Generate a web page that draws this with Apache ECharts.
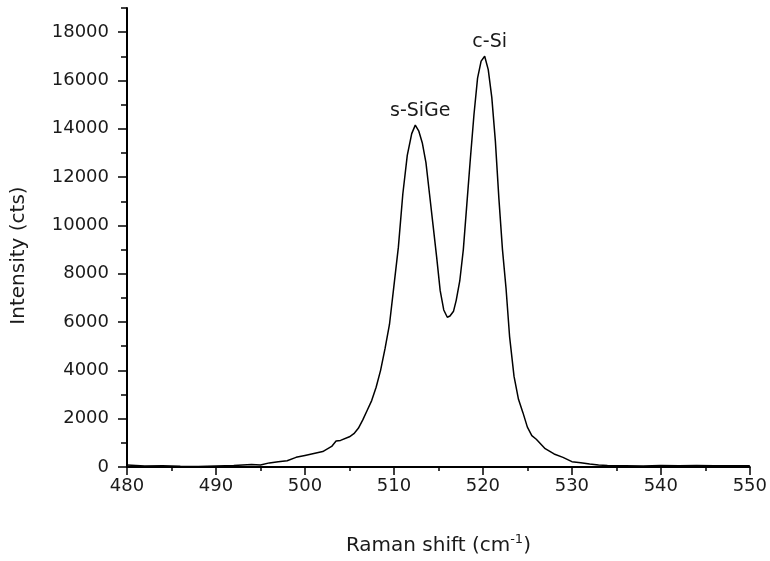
<!DOCTYPE html>
<html>
<head>
<meta charset="utf-8">
<script src="https://cdn.jsdelivr.net/npm/echarts@6/dist/echarts.min.js"></script>
<style>
  html, body { margin: 0; padding: 0; background: #fff; }
  #chart { width: 770px; height: 561px; }
</style>
</head>
<body>
<div id="chart"></div>
<script>
// Raman spectrum
var shift = [480, 482, 484, 486, 488, 490, 492, 494, 495, 496, 497, 498, 499, 500, 501, 502, 503, 503.5, 504, 505,
  505.5, 506, 506.5, 507, 507.5, 508, 508.5, 509, 509.5, 510, 510.5, 511, 511.5, 512, 512.4, 512.8, 513.2, 513.6,
  514, 514.4, 514.8, 515.2, 515.6, 516, 516.3, 516.7, 517, 517.4, 517.8, 518.2, 518.6, 519, 519.4, 519.8, 520.2,
  520.6, 521, 521.4, 521.8, 522.2, 522.6, 523, 523.5, 524, 524.5, 525, 525.5, 526, 527, 528, 529, 530, 531, 532,
  533, 534, 536, 538, 540, 542, 544, 546, 548, 550];
var intensity = [80, 40, 50, 30, 20, 40, 60, 100, 80, 170, 220, 260, 400, 480, 560, 640, 850, 1080, 1100, 1250,
  1380, 1600, 1950, 2350, 2750, 3300, 4000, 4900, 5900, 7500, 9100, 11300, 12900, 13800, 14150, 13900, 13400, 12600,
  11300, 10000, 8700, 7300, 6500, 6200, 6250, 6450, 6900, 7700, 9000, 10900, 12800, 14600, 16100, 16800, 17000,
  16450, 15300, 13500, 11100, 9000, 7400, 5400, 3750, 2800, 2250, 1650, 1300, 1150, 760, 540, 400, 220, 180, 120,
  80, 60, 50, 40, 60, 50, 60, 50, 50, 50];

var peakNames = ["s-SiGe", "c-Si"];
var peakShift = [512.4, 520.2];
var peakValue = [14150, 17000];

var yMajorTicks = [0, 2000, 4000, 6000, 8000, 10000, 12000, 14000, 16000, 18000];
var yMinorTicks = [1000, 3000, 5000, 7000, 9000, 11000, 13000, 15000, 17000, 19000];

var myChart = null;
window.onload = function () {
  myChart = echarts.init(document.getElementById("chart"));
  drawSpectrum();
};

function drawSpectrum() {
  var font = "DejaVu Sans";
  var txt = "#1a1a1a";
  var points = shift.map(function (x, i) { return [x, intensity[i]]; });
  var marks = peakNames.map(function (n, i) {
    return { name: n, coord: [peakShift[i], peakValue[i]] };
  });

  myChart.setOption({
    animation: false,
    backgroundColor: "#fff",
    grid: { left: 127, right: 16, top: 8, bottom: 94, containLabel: false },
    xAxis: {
      type: "value",
      min: 480,
      max: 550,
      interval: 10,
      name: "{a|Raman shift (cm}{s|-1}{a|)}",
      nameLocation: "middle",
      nameGap: 66,
      nameTextStyle: {
        rich: {
          a: { fontFamily: font, fontSize: 20, color: txt, lineHeight: 26 },
          s: { fontFamily: font, fontSize: 13, color: txt, verticalAlign: "top", lineHeight: 26 },
        },
      },
      axisLine: { onZero: false, lineStyle: { color: "#000", width: 2 } },
      axisTick: { inside: false, length: 8, lineStyle: { color: "#000", width: 1.5 } },
      minorTick: { show: true, splitNumber: 2, length: 4, lineStyle: { color: "#000", width: 1.5 } },
      axisLabel: { margin: 10, fontFamily: font, fontSize: 18, color: txt },
      splitLine: { show: false },
    },
    yAxis: [
      {
        type: "value",
        min: 0,
        max: 19000,
        position: "left",
        name: "Intensity (cts)",
        nameLocation: "middle",
        nameGap: 98,
        nameTextStyle: { fontFamily: font, fontSize: 20, color: txt, padding: [0, 36, 0, 0] },
        axisLine: { lineStyle: { color: "#000", width: 2 } },
        axisTick: { length: 9, customValues: yMajorTicks, lineStyle: { color: "#000", width: 1.5 } },
        axisLabel: {
          margin: 18,
          fontFamily: font,
          fontSize: 18,
          color: txt,
          customValues: yMajorTicks,
          formatter: function (v) { return String(v); },
        },
        splitLine: { show: false },
      },
      {
        //短刻度
        type: "value",
        min: 0,
        max: 19000,
        position: "left",
        offset: 0,
        axisLine: { show: false },
        axisTick: { length: 6, customValues: yMinorTicks, lineStyle: { color: "#000", width: 1.5 } },
        axisLabel: { show: false },
        splitLine: { show: false },
      },
    ],
    series: [
      {
        type: "line",
        data: points,
        showSymbol: false,
        smooth: false,
        lineStyle: { color: "#000", width: 1.5 },
        markPoint: {
          symbol: "circle",
          symbolSize: 0,
          data: marks,
          label: {
            show: true,
            position: "top",
            distance: 5,
            offset: [5, 0],
            formatter: "{b}",
            fontFamily: font,
            fontSize: 19,
            color: txt,
          },
        },
      },
    ],
  });
}
</script>
</body>
</html>
